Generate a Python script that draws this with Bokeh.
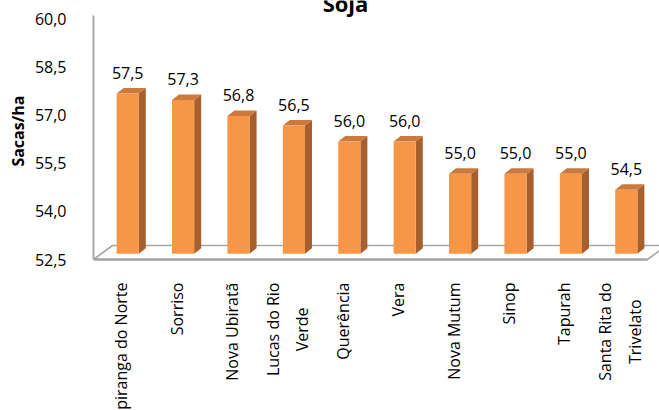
import numpy as np
from bokeh.plotting import figure
from bokeh.models import Range1d, FixedTicker, CustomJSTickFormatter, Label, Title, ColumnDataSource
from bokeh.embed import file_html
from bokeh.resources import INLINE
from bokeh.core.properties import value

# ---- data ----
categories = ["Ipiranga do Norte", "Sorriso", "Nova Ubiratã", "Lucas do Rio\nVerde",
              "Querência", "Vera", "Nova Mutum", "Sinop", "Tapurah",
              "Santa Rita do\nTrivelato"]
yields = [57.5, 57.3, 56.8, 56.5, 56.0, 56.0, 55.0, 55.0, 55.0, 54.5]
y_ticks = [52.5, 54.0, 55.5, 57.0, 58.5, 60.0]
title_text = "Soja"
y_title = "Sacas/ha"

# ---- geometry ----
W, H = 659, 410
LEFT = 93
PX_X = 55.4      # px per category slot
PX_Y = 32.07     # px per unit
BASE = 52.5
n = len(categories)
Y_BASE_PX = 259
x_end = (W - LEFT) / PX_X
y_top = 60.0 + 18.5 / PX_Y
y_bot = BASE - (H - Y_BASE_PX) / PX_Y

FLOOR_DX, FLOOR_DY = 19 / PX_X, 14 / PX_Y
BAR_OX, BAR_OY = 6.5 / PX_X, 5.7 / PX_Y
BAR_DX, BAR_DY = 7.0 / PX_X, 5.5 / PX_Y
BAR_W = 0.4

FONT = "Open Sans"
FRONT, SIDE, TOP = "#F79646", "#A65F2D", "#C97A3C"
GRID = "#A6A6A6"

vals = np.array(yields)
xc = np.arange(n) + 0.5
L = xc - BAR_W / 2 + BAR_OX
R = xc + BAR_W / 2 + BAR_OX
B = np.full(n, BASE + BAR_OY)
T = vals + BAR_OY

p = figure(width=W, height=H, output_backend="svg", toolbar_location=None,
           x_range=Range1d(0, x_end), y_range=Range1d(y_bot, y_top),
           x_axis_location=None, min_border_left=LEFT, min_border_right=0,
           min_border_top=0, min_border_bottom=0)
p.outline_line_color = None
p.grid.visible = False
p.background_fill_color = "white"

# floor
p.patch([0, n, n + FLOOR_DX, FLOOR_DX],
        [BASE, BASE, BASE + FLOOR_DY, BASE + FLOOR_DY],
        fill_color="white", line_color=GRID, line_width=1.6)
p.line([0, n], [BASE, BASE], line_color=GRID, line_width=2.6)

# bars: side, top, front
side_xs = [[r, r + BAR_DX, r + BAR_DX, r] for r in R]
side_ys = [[b, b + BAR_DY, t + BAR_DY, t] for b, t in zip(B, T)]
top_xs = [[l, r, r + BAR_DX, l + BAR_DX] for l, r in zip(L, R)]
top_ys = [[t, t, t + BAR_DY, t + BAR_DY] for t in T]
p.patches(side_xs, side_ys, fill_color=SIDE, line_color=None)
p.patches(top_xs, top_ys, fill_color=TOP, line_color=None)
p.quad(left=L, right=R, bottom=B, top=T, fill_color=FRONT, line_color=None)

# value labels
lab_src = ColumnDataSource(dict(
    x=xc + BAR_OX, y=T + 20.5 / PX_Y,
    t=[f"{v:.1f}".replace(".", ",") for v in yields]))
p.text(x="x", y="y", text="t", source=lab_src, text_align="center",
       text_baseline="middle", text_font=value(FONT),
       text_font_size="16px", text_color="black")

# category labels
cat_src = ColumnDataSource(dict(x=xc, y=np.full(n, BASE - 23 / PX_Y), t=categories))
p.text(x="x", y="y", text="t", source=cat_src, angle=np.pi / 2,
       anchor="center_right", text_align="center",
       text_font=value(FONT), text_font_size="16px", text_color="black",
       text_line_height=1.35)

# title (partly cut at top like the reference)
p.add_layout(Label(x=(345 - LEFT) / PX_X, y=y_top - 3 / PX_Y, text=title_text,
                   text_align="center", text_baseline="middle", text_font=FONT,
                   text_font_size="22px", text_font_style="bold",
                   text_color="black"))

# y axis title as a left-side title, top end placed like the reference
p.add_layout(Title(text=y_title, align="right", offset=95, text_font=FONT,
                   text_font_size="16px", text_font_style="bold",
                   text_color="black", standoff=6), "left")

# y axis
ax = p.yaxis[0]
ax.ticker = FixedTicker(ticks=y_ticks)
ax.formatter = CustomJSTickFormatter(code="return tick.toFixed(1).replace('.', ',');")
ax.bounds = (52.5, 60.1)
ax.axis_line_color = GRID
ax.axis_line_width = 2
ax.major_tick_line_color = None
ax.minor_tick_line_color = None
ax.major_tick_out = 0
ax.major_tick_in = 0
ax.major_label_standoff = 27
ax.major_label_text_font = FONT
ax.major_label_text_font_size = "16px"
ax.major_label_text_color = "black"

open("out.html", "w").write(file_html(p, INLINE))
